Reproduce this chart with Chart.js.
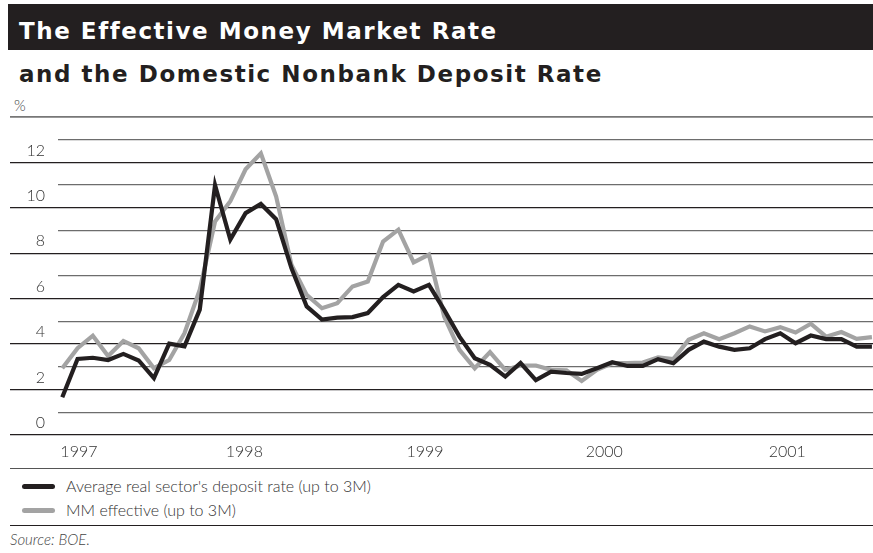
<!DOCTYPE html>
<html>
<head>
<meta charset="utf-8">
<script src="https://cdn.jsdelivr.net/npm/chart.js@4.4.0/dist/chart.umd.min.js"></script>
<style>
body{margin:0;width:873px;height:553px;overflow:hidden;background:#fff;position:relative;font-family:Lato,"Open Sans",sans-serif;color:#231f20}
#band{position:absolute;left:8px;top:4px;width:865px;height:46px;background:#231f20}
.head{position:absolute;left:19px;font-family:"DejaVu Sans",sans-serif;font-size:23px;font-weight:bold;letter-spacing:1.55px;white-space:nowrap;line-height:28px}
#title{top:17px;color:#fff}
#subtitle{top:60px}
#unit{position:absolute;left:14px;top:96px;font-size:15px;font-weight:300;color:#444}
#plot{position:absolute;left:0;top:110px;width:873px;height:360px}
.rule{position:absolute;left:10px;width:863px;height:0}
#legend{position:absolute;left:22px;top:475px;font-size:16px;font-weight:300;color:#333}
.item{height:24px;line-height:22px;white-space:nowrap}
.swatch{display:inline-block;width:33px;height:5px;border-radius:3px;vertical-align:middle;margin-right:11px;position:relative;top:-2px}
#source{position:absolute;left:10px;top:530px;font-size:15px;font-style:italic;font-weight:300;color:#444}
</style>
</head>
<body>
<div id="band"></div>
<div id="title" class="head">The Effective Money Market Rate</div>
<div id="subtitle" class="head">and the Domestic Nonbank Deposit Rate</div>
<div id="unit">%</div>
<div id="plot"><canvas id="chart" width="873" height="360"></canvas></div>
<div class="rule" style="top:468px;border-top:1.5px solid #555"></div>
<div id="legend"></div>
<div class="rule" style="top:525px;border-top:1.5px solid #231f20"></div>
<div id="source">Source: BOE.</div>

<script>
// monthly observations, Jan 1997 .. Jun 2001
const months = []
for (let y = 1997; y <= 2001; y++) {
  for (let m = 1; m <= 12; m++) {
    if (y === 2001 && m > 6) break
    months.push(y + "-" + String(m).padStart(2, "0"))
  }
}

const depositRate = [
  1.66, 3.35, 3.40, 3.30, 3.57, 3.28, 2.50, 4.02, 3.90, 5.52,
  11.0, 8.60, 9.77, 10.17, 9.50, 7.35, 5.66, 5.08, 5.17, 5.19,
  5.37, 6.07, 6.61, 6.32, 6.61, 5.51, 4.33, 3.38, 3.09, 2.57,
  3.17, 2.42, 2.79, 2.73, 2.69, 2.94, 3.20, 3.04, 3.04, 3.34,
  3.16, 3.75, 4.11, 3.89, 3.75, 3.82, 4.22, 4.48, 4.04, 4.38,
  4.22, 4.22, 3.89, 3.89
]

const mmRate = [
  2.94, 3.82, 4.37, 3.48, 4.14, 3.82, 2.94, 3.30, 4.48, 6.40,
  9.40, 10.29, 11.70, 12.40, 10.50, 7.50, 6.17, 5.58, 5.80, 6.54,
  6.76, 8.52, 9.04, 7.60, 7.94, 5.22, 3.75, 2.94, 3.65, 2.87,
  3.06, 3.06, 2.87, 2.85, 2.38, 2.87, 3.16, 3.16, 3.19, 3.42,
  3.34, 4.19, 4.48, 4.22, 4.48, 4.78, 4.56, 4.75, 4.51, 4.90,
  4.33, 4.53, 4.23, 4.31
]

const yearLabels = ["1997", "1998", "1999", "2000", "2001"]
// where each year label sits, in months from Jan 1997
const yearLabelAt = [1.09, 11.92, 23.74, 35.48, 47.46]
const yLabels = [0, 2, 4, 6, 8, 10, 12]

const seriesNames = [
  "Average real sector's deposit rate (up to 3M)",
  "MM effective (up to 3M)"
]
const seriesColors = ["#231f20", "#a3a3a3"]

const toPoints = arr => arr.map((v, i) => ({ x: i, y: v }))

const chart = new Chart(document.getElementById("chart"), {
  type: "line",
  data: {
    datasets: [
      {
        label: seriesNames[0],
        data: toPoints(depositRate),
        borderColor: seriesColors[0],
        borderWidth: 4.2,
        pointRadius: 0,
        tension: 0,
        borderJoinStyle: "miter"
      },
      {
        label: seriesNames[1],
        data: toPoints(mmRate),
        borderColor: seriesColors[1],
        borderWidth: 4.2,
        pointRadius: 0,
        tension: 0,
        borderJoinStyle: "miter"
      }
    ]
  },
  options: {
    responsive: false,
    animation: false,
    devicePixelRatio: 1,
    layout: { padding: { left: 10, right: 0, top: 7, bottom: 0 } },
    plugins: { legend: { display: false }, tooltip: { enabled: false } },
    scales: {
      x: {
        type: "linear",
        min: -0.28,
        max: 53.07,
        grid: { display: false },
        border: { display: false },
        afterFit: s => { s.height = 35 },
        afterBuildTicks: s => { s.ticks = yearLabelAt.map(v => ({ value: v })) },
        ticks: {
          autoSkip: false,
          maxRotation: 0,
          padding: -1,
          color: "#333",
          font: { family: "Lato", size: 16, weight: 300 },
          callback: (v, i) => yearLabels[i]
        }
      },
      y: {
        min: 0,
        max: 14,
        afterFit: s => { s.width = 48 },
        border: { display: false },
        grid: {
          drawTicks: true,
          tickLength: 48,
          lineWidth: c => (c.tick && c.tick.value === 14 ? 1.8 : 1.3),
          color: c => {
            if (!c.tick) return "#231f20"
            if (c.tick.value === 14) return "#777"
            return c.tick.value % 2 === 0 ? "#231f20" : "#6d6d6d"
          },
          tickWidth: c => (c.tick && c.tick.value === 14 ? 1.8 : 1.3),
          tickColor: c => {
            if (!c.tick) return "transparent"
            if (c.tick.value === 14) return "#777"
            return c.tick.value % 2 === 0 ? "#231f20" : "transparent"
          }
        },
        ticks: {
          stepSize: 1,
          padding: -35,
          labelOffset: -12,
          color: "#333",
          font: { family: "Lato", size: 16, weight: 300 },
          callback: v => (yLabels.includes(v) ? String(v) : "")
        }
      }
    }
  }
})

// legend rows, one per series
const legend = document.getElementById("legend")
chart.data.datasets.forEach(ds => {
  const row = document.createElement("div")
  row.className = "item"
  row.innerHTML = `<span class="swatch" style="background:${ds.borderColor}"></span>${ds.label}`
  legend.appendChild(row)
})
</script>
</body>
</html>
